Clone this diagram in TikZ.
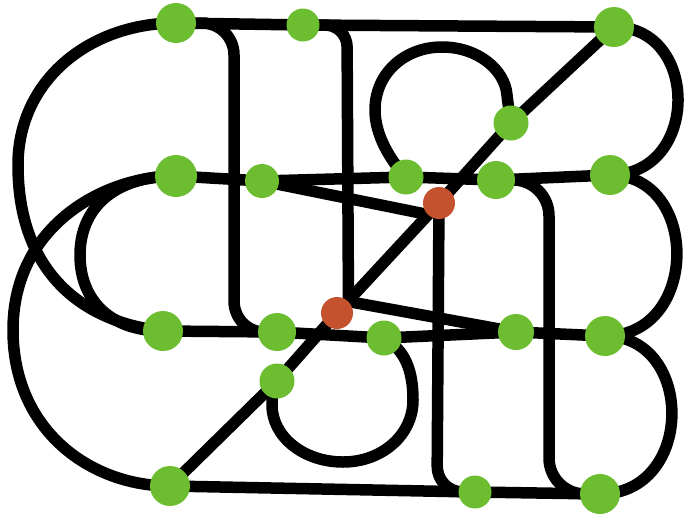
\documentclass[tikz,border=0pt]{standalone}
\pgfdeclarelayer{bg}
\pgfsetlayers{bg,main}
\definecolor{ngreen}{RGB}{108,190,48}
\definecolor{nred}{RGB}{196,82,46}
\tikzset{
  gnode/.style={circle, fill=ngreen, draw=none, inner sep=0pt, minimum size=#1},
  rnode/.style={circle, fill=nred, draw=none, inner sep=0pt, minimum size=32pt},
  wire/.style={line width=11.5pt, black, line join=round},
}
\begin{document}
\begin{tikzpicture}[x=1pt,y=-1pt]
\useasboundingbox (0,0) rectangle (684,515);
% nodes
\node[gnode=40pt] (A) at (176,23) {};
\node[gnode=33pt] (B) at (303,25) {};
\node[gnode=40pt] (C) at (614,27) {};
\node[gnode=35pt] (D) at (511,123) {};
\node[gnode=42pt] (E) at (176,176) {};
\node[gnode=34pt] (F) at (262,181) {};
\node[gnode=35pt] (G) at (406,177) {};
\node[gnode=38pt] (H) at (496,180) {};
\node[gnode=40pt] (I) at (610,175) {};
\node[gnode=40pt] (J) at (163,331) {};
\node[gnode=38pt] (K) at (277,332) {};
\node[gnode=35pt] (L) at (384,338) {};
\node[gnode=36pt] (M) at (516,332) {};
\node[gnode=40pt] (N) at (605,336) {};
\node[gnode=35pt] (O) at (277,381) {};
\node[gnode=40pt] (P) at (170,486) {};
\node[gnode=33pt] (Q) at (475,492) {};
\node[gnode=40pt] (R) at (600,494) {};
\node[rnode] (S) at (439,203) {};
\node[rnode] (T) at (337,313) {};
\begin{pgfonlayer}{bg}
% straight runs
\draw[wire] (A.center) -- (B.center) -- (C.center);
\draw[wire] (E.center) -- (F.center) -- (G.center) -- (H.center) -- (I.center);
\draw[wire] (J.center) -- (K.center) -- (L.center) -- (M.center) -- (N.center);
\draw[wire] (P.center) -- (Q.center) -- (R.center);
\draw[wire] (P.center) -- (O.center) -- (T.center) -- (S.center) -- (D.center) -- (C.center);
\draw[wire] (F.center) -- (S.south west);
\draw[wire] (T.north east) -- (M.center);
% rounded elbows
\draw[wire, rounded corners=32pt] (A.center) -- (234,23) -- (234,333) -- (K.center);
\draw[wire, rounded corners=22pt] (B.center) -- (347,25) -- (T.north east);
\draw[wire, rounded corners=26pt] (S.center) -- (437,492) -- (Q.center);
\draw[wire, rounded corners=36pt] (H.center) -- (549,180) -- (549,494) -- (R.center);
% right arcs
\draw[wire] (C.center) .. controls (700,27) and (700,175) .. (I.center);
\draw[wire] (I.center) .. controls (700,175) and (700,336) .. (N.center);
\draw[wire] (N.center) .. controls (695,336) and (695,494) .. (R.center);
% left arcs
\draw[wire] (A.center) .. controls (90,23) and (18,80) .. (18,165)
                       .. controls (18,270) and (80,322) .. (J.center);
\draw[wire] (E.center) .. controls (105,176) and (13,225) .. (13,330)
                       .. controls (13,430) and (90,486) .. (P.center);
\draw[wire] (E.center) .. controls (112,176) and (80,210) .. (80,255)
                       .. controls (80,300) and (110,331) .. (J.center);
% loops
\draw[wire] (G.center) .. controls (390,160) and (375,135) .. (375,110)
                       .. controls (375,73) and (405,47) .. (442,47)
                       .. controls (478,47) and (505,70) .. (507,95)
                       .. controls (508,105) and (510,115) .. (D.center);
\draw[wire] (L.center) .. controls (405,350) and (413,370) .. (413,400)
                       .. controls (413,435) and (382,462) .. (343,462)
                       .. controls (304,462) and (272,437) .. (272,405)
                       .. controls (272,395) and (274,388) .. (O.center);
\end{pgfonlayer}
\end{tikzpicture}
\end{document}
